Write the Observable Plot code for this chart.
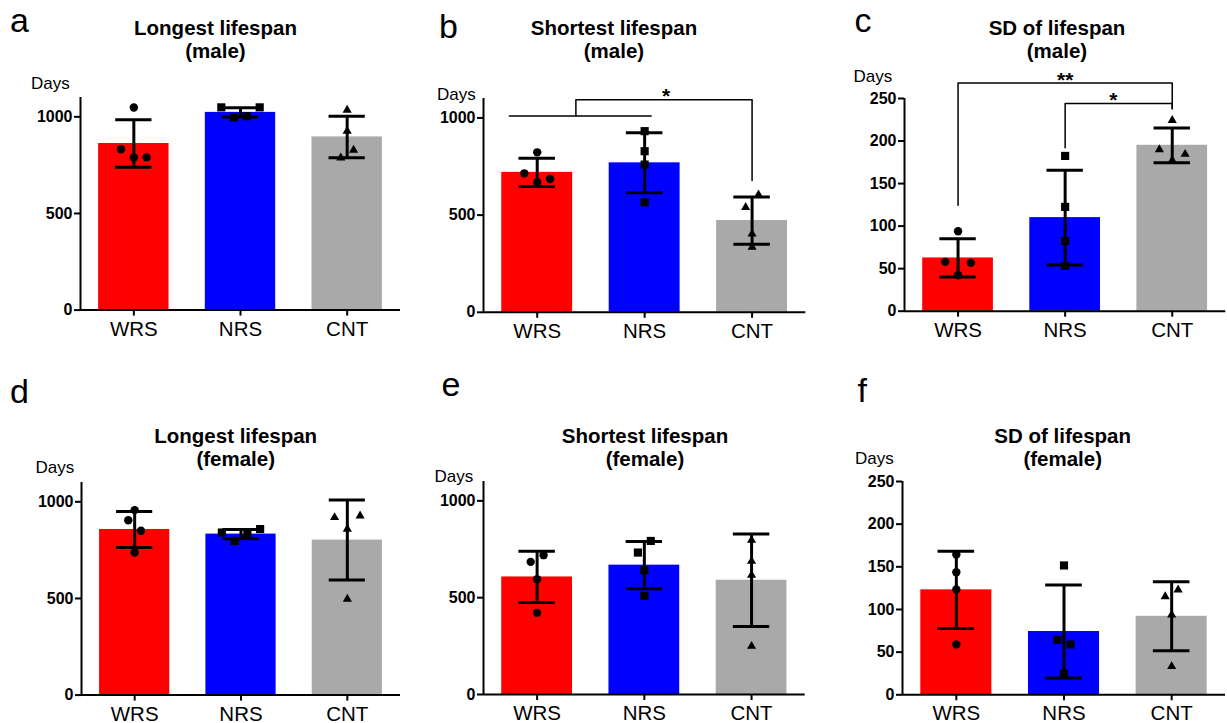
<!DOCTYPE html>
<html>
<head>
<meta charset="utf-8">
<script src="https://cdn.jsdelivr.net/npm/d3@7"></script>
<script src="https://cdn.jsdelivr.net/npm/@observablehq/plot@0.6"></script>
<style>
  html, body { margin: 0; padding: 0; background: #fff; }
  #page { position: relative; width: 1227px; height: 723px; overflow: hidden; background: #fff;
          font-family: "Liberation Sans", Arial, sans-serif; }
  .panel { position: absolute; }
  .panel svg { overflow: visible; max-width: none !important; }
  #overlay { position: absolute; left: 0; top: 0; pointer-events: none; }
</style>
</head>
<body>
<div id="page"></div>
<script>
// ---------- data ----------
const groups = ["WRS", "NRS", "CNT"];
const colors = ["#ff0000", "#0000ff", "#a9a9a9"];

const panelLetters = ["a", "b", "c", "d", "e", "f"];
const panelTitles = [
  ["Longest lifespan", "(male)"],
  ["Shortest lifespan", "(male)"],
  ["SD of lifespan", "(male)"],
  ["Longest lifespan", "(female)"],
  ["Shortest lifespan", "(female)"],
  ["SD of lifespan", "(female)"]
];
const yLabel = "Days";
const ticksDays = [0, 500, 1000];
const ticksSD = [0, 50, 100, 150, 200, 250];

// (a) Longest lifespan, male
const longestMaleMean = [862, 1023, 896];
const longestMaleSD = [123.5, 24.5, 107.5];
const longestMalePoints = [[1048, 832, 790, 790], [1049, 1049, 997, 1003], [1035, 926, 828, 788]];
// (b) Shortest lifespan, male
const shortestMaleMean = [720, 769, 472];
const shortestMaleSD = [72.5, 154.5, 121.5];
const shortestMalePoints = [[823, 715, 686, 669], [932, 829, 760, 566], [604, 540, 403, 335]];
// (c) SD of lifespan, male
const sdMaleMean = [62.6, 110, 195];
const sdMaleSD = [22.4, 55.8, 20.4];
const sdMalePoints = [[94, 58, 56.8, 42.3], [182.5, 122.6, 82.6, 53.2], [224.4, 190, 184.5, 177.4]];
// (d) Longest lifespan, female
const longestFemaleMean = [857, 833, 802];
const longestFemaleSD = [93, 24, 207];
const longestFemalePoints = [[957, 905, 850, 738], [841, 859, 833, 798], [919, 928, 859, 497]];
// (e) Shortest lifespan, female
const shortestFemaleMean = [607, 668, 590];
const shortestFemaleSD = [132.5, 122, 239];
const shortestFemalePoints = [[719.5, 685, 595.5, 421.5], [793, 733, 642, 509], [797, 688.5, 616, 249.5]];
// (f) SD of lifespan, female
const sdFemaleMean = [123, 74.2, 92];
const sdFemaleSD = [45.3, 54.5, 40.5];
const sdFemalePoints = [[164.5, 143.7, 123.4, 59], [151.6, 64.5, 59, 24.6], [123, 115.2, 93.8, 33.2]];

// significance annotations (group index / value units)
const sigB = [
  { path: [[-0.26, 1010], [1.06, 1010]] },
  { path: [[0.36, 1010], [0.36, 1094], [2, 1094], [2, 678]] }
];
const sigBStars = [{ x: 1.2, y: 1094, label: "*" }];
const sigC = [
  { path: [[0, 124.6], [0, 268.3], [2, 268.3], [2, 238]] },
  { path: [[1, 192], [1, 244], [2, 244], [2, 238]] }
];
const sigCStars = [{ x: 1, y: 268.3, label: "**" }, { x: 1.45, y: 244, label: "*" }];

// ---------- layout (styles / positions) ----------
const jitterUnit = 0.06;
const jitters = [
  [[0, -2, 0, 2], [-3, 3, -1, 1], [0, 0, 1, -1]],
  [[0, -2, 2, 0], [0, 0, 0, 0], [1, -1, 0, 0]],
  [[0, -2, 2, 0], [0, 0, 0, 0], [0, -2, 2, 0]],
  [[0, -1, 1, 0], [-3, 3, 1, -1], [-2, 2, 0, 0]],
  [[1, -1, 0, 0], [1, -1, 0, 0], [0, 0, 0, 0]],
  [[0, 0, 0, 0], [0, -1, 1, 0], [1, -1, 0, 0]]
];
const frames = [
  { left: 80, right: 400, top: 97.4, bottom: 310, yMax: 1100, ticks: ticksDays },
  { left: 482.7, right: 805, top: 97.9, bottom: 311.7, yMax: 1100, ticks: ticksDays },
  { left: 903.7, right: 1225, top: 98.3, bottom: 311, yMax: 250, ticks: ticksSD },
  { left: 81, right: 400, top: 481.7, bottom: 694.3, yMax: 1100, ticks: ticksDays },
  { left: 483.3, right: 805, top: 481.3, bottom: 694.3, yMax: 1100, ticks: ticksDays },
  { left: 902, right: 1225, top: 481, bottom: 694.3, yMax: 250, ticks: ticksSD }
];
const letterPos = [[10, 31.7], [439, 38.3], [854.5, 31.7], [10, 402.7], [441.5, 396], [857.5, 401.7]];
const titlePos = [[215.5, 35], [614, 35], [1057, 35], [235.7, 443], [645, 443], [1062.7, 443]];
const daysPos = [[31, 89.3], [437, 100], [853.5, 81.7], [35.5, 473.3], [434.5, 482.3], [855, 464]];

const means = [longestMaleMean, shortestMaleMean, sdMaleMean, longestFemaleMean, shortestFemaleMean, sdFemaleMean];
const sds = [longestMaleSD, shortestMaleSD, sdMaleSD, longestFemaleSD, shortestFemaleSD, sdFemaleSD];
const points = [longestMalePoints, shortestMalePoints, sdMalePoints, longestFemalePoints, shortestFemalePoints, sdFemalePoints];
const sigPaths = [[], sigB, sigC, [], [], []];
const sigStars = [[], sigBStars, sigCStars, [], [], []];

const symbols = ["circle", "square", "triangle"];
const symbolR = [4.2, 4.6, 3.4];
const ML = 80, MR = 3, MT = 40, MB = 40;
const font = "'Liberation Sans', Arial, sans-serif";

const page = document.getElementById("page");

frames.forEach((f, p) => {
  const rows = groups.map((g, i) => ({ i, g, mean: means[p][i], sd: sds[p][i], color: colors[i] }));
  const pts = [];
  points[p].forEach((arr, i) => arr.forEach((v, k) => pts.push({ i, v, j: jitters[p][i][k] })));

  const marks = [
    Plot.rect(rows, { x1: d => d.i - 0.33, x2: d => d.i + 0.33, y1: 0, y2: "mean", fill: "color" }),
    Plot.ruleX(rows, { x: "i", y1: d => d.mean - d.sd, y2: d => d.mean + d.sd, strokeWidth: 3 }),
    Plot.ruleY(rows, { y: d => d.mean + d.sd, x1: d => d.i - 0.17, x2: d => d.i + 0.17, strokeWidth: 3 }),
    Plot.ruleY(rows, { y: d => d.mean - d.sd, x1: d => d.i - 0.17, x2: d => d.i + 0.17, strokeWidth: 3 })
  ];
  groups.forEach((g, i) => {
    marks.push(Plot.dot(pts.filter(d => d.i === i), {
      x: d => d.i + d.j * jitterUnit, y: "v", symbol: symbols[i], r: symbolR[i], fill: "black", stroke: null
    }));
  });
  sigPaths[p].forEach(s => {
    marks.push(Plot.line(s.path, { x: d => d[0], y: d => d[1], stroke: "black", strokeWidth: 1.5 }));
  });
  if (sigStars[p].length) {
    marks.push(Plot.text(sigStars[p], { x: "x", y: "y", text: "label", fontSize: 21, fontWeight: "bold",
      lineAnchor: "middle", dy: -3, fill: "black" }));
  }
  marks.push(
    Plot.ruleX([-0.5], { y1: 0, y2: f.yMax, strokeWidth: 2 }),
    Plot.ruleY([0], { x1: -0.5, x2: 2.5, strokeWidth: 2 }),
    Plot.axisY({ ticks: f.ticks, tickFormat: d => String(d), label: null, tickSize: 6, tickPadding: 2, strokeWidth: 2 }),
    Plot.axisX({ ticks: [0, 1, 2], tickFormat: i => groups[i], label: null, tickSize: 6, tickPadding: 5, strokeWidth: 2 })
  );

  const width = f.right - f.left + ML + MR;
  const height = f.bottom - f.top + MT + MB;
  const svg = Plot.plot({
    width, height,
    marginLeft: ML, marginRight: MR, marginTop: MT, marginBottom: MB,
    x: { domain: [-0.5, 2.5] },
    y: { domain: [0, f.yMax] },
    color: { type: "identity" },
    style: { fontFamily: font, background: "transparent", color: "black", overflow: "visible" },
    marks
  });
  // tick label typography
  const yl = svg.querySelector('[aria-label="y-axis tick label"]');
  if (yl) { yl.setAttribute("font-size", "16"); yl.setAttribute("font-weight", "bold"); }
  const xl = svg.querySelector('[aria-label="x-axis tick label"]');
  if (xl) { xl.setAttribute("font-size", "20.5"); }

  const div = document.createElement("div");
  div.className = "panel";
  div.style.left = (f.left - ML) + "px";
  div.style.top = (f.top - MT) + "px";
  div.style.width = width + "px";
  div.style.height = height + "px";
  div.appendChild(svg);
  page.appendChild(div);
});

// ---------- overlay text: panel letters, titles, axis unit ----------
const ov = d3.select("#page").append("svg").attr("id", "overlay").attr("width", 1227).attr("height", 723)
  .style("font-family", font);
panelLetters.forEach((l, p) => {
  ov.append("text").attr("x", letterPos[p][0]).attr("y", letterPos[p][1]).attr("font-size", 34).text(l);
  const t = ov.append("text").attr("text-anchor", "middle").attr("font-size", 20.5).attr("font-weight", "bold");
  t.append("tspan").attr("x", titlePos[p][0]).attr("y", titlePos[p][1]).text(panelTitles[p][0]);
  t.append("tspan").attr("x", titlePos[p][0]).attr("y", titlePos[p][1] + 22.5).text(panelTitles[p][1]);
  ov.append("text").attr("x", daysPos[p][0]).attr("y", daysPos[p][1]).attr("font-size", 17).text(yLabel);
});
</script>
</body>
</html>
